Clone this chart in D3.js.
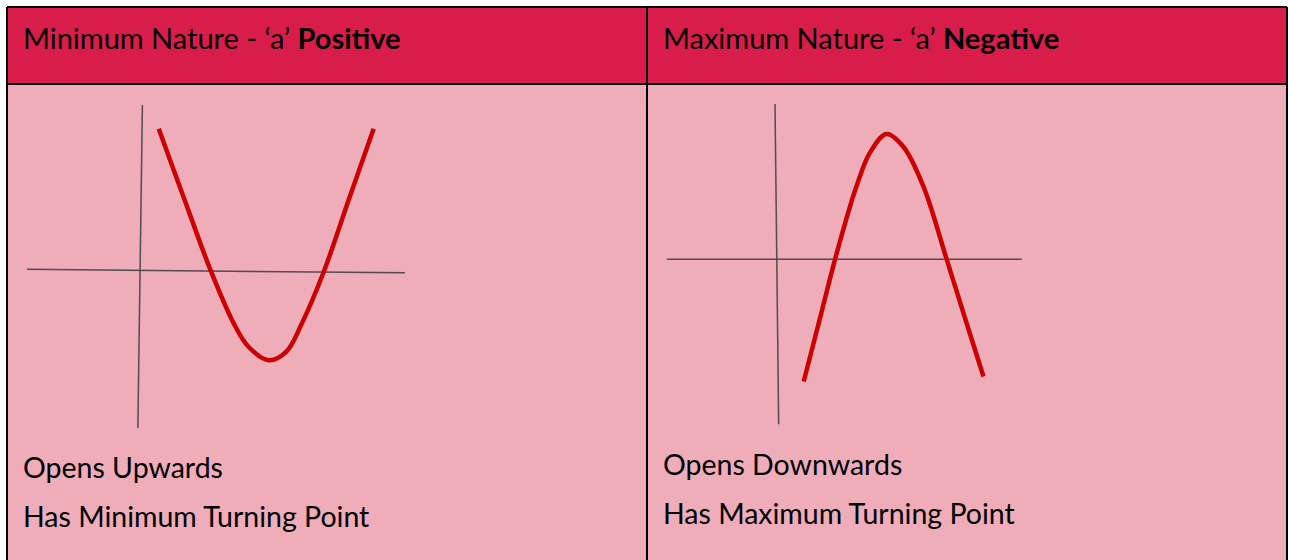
<!DOCTYPE html>
<html>
<head>
<meta charset="utf-8">
<script src="https://cdn.jsdelivr.net/npm/d3@7"></script>
<style>
  body { margin: 0; background: #fff; }
  text { font-family: Lato, "Noto Sans", sans-serif; fill: #000; }
</style>
</head>
<body>
<div id="chart"></div>
<script>
// header text, the bold word and the two notes under each graph
var headPlain = ["Minimum Nature - \u2018a\u2019 ", "Maximum Nature - \u2018a\u2019 "];
var headBold = ["Positive", "Negative"];
var notesMin = ["Opens Upwards", "Has Minimum Turning Point"];
var notesMax = ["Opens Downwards", "Has Maximum Turning Point"];

// curve points (axes cross at 0,0)
var minX = [0.38, 0.95, 1.52, 2.03, 2.36, 2.80, 3.19, 3.53, 4.01, 4.56, 5.11];
var minY = [3.11, 1.54, 0.00, -1.17, -1.69, -1.98, -1.79, -1.17, -0.04, 1.54, 3.11];
var maxX = [0.60, 0.95, 1.29, 1.53, 1.76, 2.05, 2.42, 2.79, 3.23, 3.74, 4.13, 4.55];
var maxY = [-2.69, -1.33, 0.00, 0.86, 1.60, 2.33, 2.75, 2.47, 1.60, 0.00, -1.25, -2.58];

// hand drawn axes, a little crooked
var minAxisH = [[-2.52, 0.02], [5.80, -0.06]];
var minAxisV = [[0.02, 3.63], [-0.08, -3.47]];
var maxAxisH = [[-2.41, 0.00], [5.39, 0.00]];
var maxAxisV = [[-0.03, 3.41], [0.05, -3.63]];

var width = 1289, height = 560;
var svg = d3.select("#chart").append("svg")
    .attr("width", width)
    .attr("height", height);

// table cells
var tLeft = 7, tRight = 1287, tMid = 647, tTop = 7, headBottom = 84;
svg.append("rect").attr("x", tLeft).attr("y", tTop)
    .attr("width", tRight - tLeft).attr("height", headBottom - tTop)
    .attr("fill", "#d91d4b");
svg.append("rect").attr("x", tLeft).attr("y", headBottom)
    .attr("width", tRight - tLeft).attr("height", height - headBottom)
    .attr("fill", "#efacb9");

var lines = [
    [tLeft, tTop, tRight, tTop],
    [tLeft, headBottom, tRight, headBottom],
    [tLeft, tTop, tLeft, height],
    [tRight, tTop, tRight, height],
    [tMid, tTop, tMid, height]
];
svg.selectAll("line.grid")
    .data(lines)
    .enter().append("line")
    .attr("class", "grid")
    .attr("x1", function(d) { return d[0]; })
    .attr("y1", function(d) { return d[1]; })
    .attr("x2", function(d) { return d[2]; })
    .attr("y2", function(d) { return d[3]; })
    .attr("stroke", "#000")
    .attr("stroke-width", 2);

// headers
var colX = [23, 663];
headPlain.forEach(function(t, i) {
    var tx = svg.append("text")
        .attr("x", colX[i]).attr("y", 49)
        .style("font-size", "29px");
    tx.append("tspan").text(t).style("font-weight", 400);
    tx.append("tspan").text(headBold[i]).style("font-weight", 700);
});

// notes
function notes(list, x, y0) {
    svg.selectAll(null)
        .data(list)
        .enter().append("text")
        .attr("x", x)
        .attr("y", function(d, i) { return y0 + i * 49; })
        .style("font-size", "28.5px")
        .style("font-weight", 400)
        .text(function(d) { return d; });
}
notes(notesMin, 23, 478);
notes(notesMax, 663, 475);

// one sketched graph
function graph(xs, ys, axH, axV, xr, yr, xd, yd) {
    var x = d3.scaleLinear().domain(xd).range(xr);
    var y = d3.scaleLinear().domain(yd).range(yr);
    var axisLine = d3.line()
        .x(function(d) { return x(d[0]); })
        .y(function(d) { return y(d[1]); });
    [axH, axV].forEach(function(a) {
        svg.append("path")
            .attr("d", axisLine(a))
            .attr("fill", "none")
            .attr("stroke", "#3a3a3a")
            .attr("stroke-opacity", 0.85)
            .attr("stroke-width", 1.5);
    });
    var pts = xs.map(function(v, i) { return [v, ys[i]]; });
    svg.append("path")
        .attr("d", axisLine.curve(d3.curveCatmullRom)(pts))
        .attr("fill", "none")
        .attr("stroke", "#cc0000")
        .attr("stroke-width", 4.5);
}

graph(minX, minY, minAxisH, minAxisV, [27, 405], [428, 105], [-2.52, 5.80], [-3.47, 3.63]);
graph(maxX, maxY, maxAxisH, maxAxisV, [666.7, 1021.7], [424.3, 104], [-2.41, 5.39], [-3.63, 3.41]);
</script>
</body>
</html>
